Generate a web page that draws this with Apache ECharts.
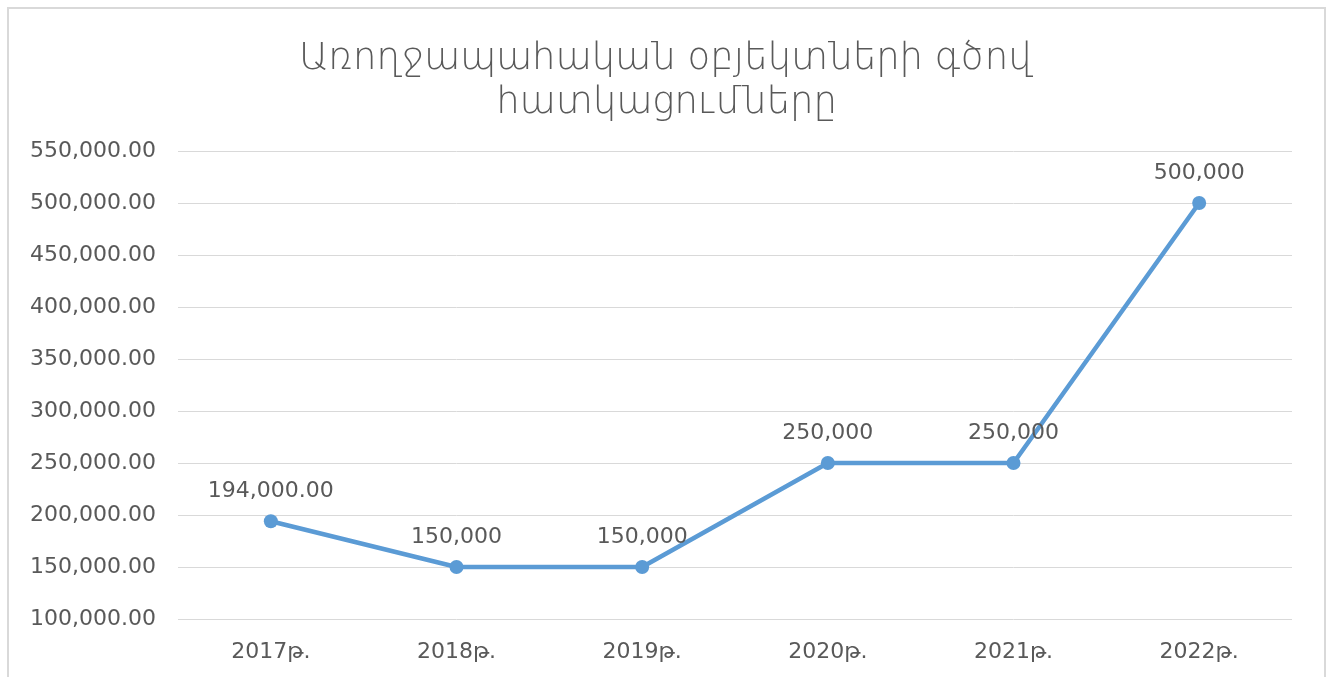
<!DOCTYPE html>
<html>
<head>
<meta charset="utf-8">
<script src="https://cdn.jsdelivr.net/npm/echarts@6/dist/echarts.min.js"></script>
<style>
  html, body { margin: 0; padding: 0; background: #fff; overflow: hidden; }
  #frame { position: absolute; left: 7px; top: 7px; width: 1315px; height: 700px;
           border: 2px solid #d9d9d9; border-bottom: none; }
  #chart { position: absolute; left: 0; top: 0; width: 1333px; height: 677px; }
</style>
</head>
<body>
<div id="frame"></div>
<div id="chart"></div>
<script>
var years = ['2017թ.', '2018թ.', '2019թ.', '2020թ.', '2021թ.', '2022թ.'];
var values = [194000, 150000, 150000, 250000, 250000, 500000];
var pointLabels = ['194,000.00', '150,000', '150,000', '250,000', '250,000', '500,000'];

var font = '"DejaVu Sans", sans-serif';
var grey = '#595959';

var mychart = echarts.init(document.getElementById('chart'));
mychart.setOption({
  title: {
    text: 'Առողջապահական օբյեկտների գծով\nհատկացումները',
    left: 'center',
    top: 32,
    textStyle: {
      color: grey,
      fontFamily: font,
      fontWeight: 200,
      fontSize: 37,
      lineHeight: 44
    }
  },
  grid: { left: 178, right: 41, top: 151, bottom: 58, containLabel: false },
  xAxis: {
    type: 'category',
    data: years,
    boundaryGap: true,
    axisLine: { show: false },
    axisTick: { show: false },
    axisLabel: { color: grey, fontSize: 22, fontFamily: font, margin: 22 }
  },
  yAxis: {
    type: 'value',
    min: 100000,
    max: 550000,
    interval: 50000,
    axisLine: { show: false },
    axisTick: { show: false },
    splitLine: { lineStyle: { color: '#d9d9d9', width: 1 } },
    axisLabel: {
      color: grey, fontSize: 22, fontFamily: font, margin: 22,
      padding: [3, 0, 0, 0],
      formatter: function (v) {
        return v.toLocaleString('en-US', { minimumFractionDigits: 2, maximumFractionDigits: 2 });
      }
    }
  },
  series: [{
    type: 'line',
    data: values,
    symbol: 'circle',
    symbolSize: 14,
    lineStyle: { color: '#5b9bd5', width: 4.5 },
    itemStyle: { color: '#5b9bd5' },
    label: {
      show: true,
      position: 'top',
      distance: 12,
      color: grey,
      fontSize: 22,
      fontFamily: font,
      formatter: function (p) { return pointLabels[p.dataIndex]; }
    },
    animation: false
  }],
  animation: false
});
</script>
</body>
</html>
